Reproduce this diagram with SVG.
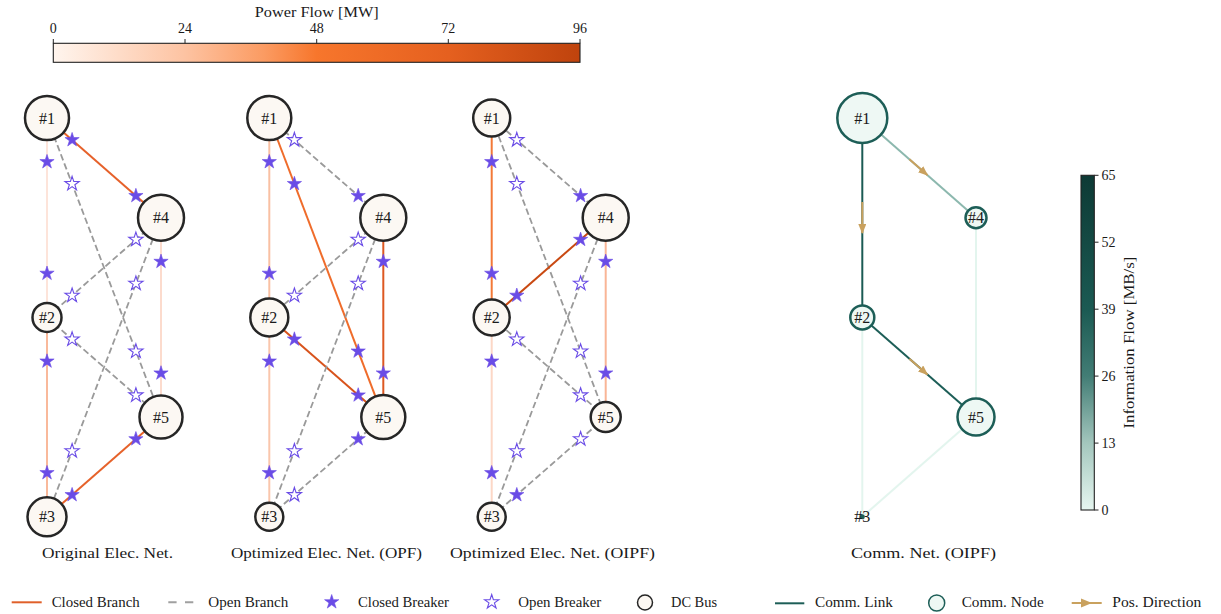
<svg xmlns="http://www.w3.org/2000/svg" xmlns:xlink="http://www.w3.org/1999/xlink" width="1221" height="614" viewBox="0 0 1221 614">
  <defs>
    <style>
      text { font-family: "Liberation Serif", "DejaVu Serif", serif; fill: #1a1a1a; }
      .lbl { font-size: 16px; text-anchor: middle; }
      .ttl { font-size: 15px; text-anchor: middle; }
      .tick { font-size: 14px; }
      .leg { font-size: 14px; }
      .bus { fill: #fcf8f3; stroke: #262626; stroke-width: 2.5; }
      .cnode { fill: #eef8f4; stroke: #1d5e57; stroke-width: 2.5; }
      .open { stroke: #9a9a9a; stroke-width: 1.8; stroke-dasharray: 6.5 3.2; fill: none; }
      .br { stroke-width: 2; fill: none; }
      .bkc { fill: #6a4ce6; stroke: #6a4ce6; stroke-width: 0.6; }
      .bko { fill: #ffffff; stroke: #6a4ce6; stroke-width: 1.1; }
      .cl { stroke-width: 2; fill: none; }
      .dir { stroke: #c9a15e; stroke-width: 2; fill: none; }
      .frame { fill: none; stroke: #222; stroke-width: 1.1; }
      .tk { stroke: #222; stroke-width: 1; }
    </style>
    <!-- five-point breaker star -->
    <path id="bk" d="M0,-7.5 L1.684,-2.318 L7.132,-2.318 L2.725,0.885 L4.408,6.067 L0,2.865 L-4.408,6.067 L-2.725,0.885 L-7.132,-2.318 L-1.684,-2.318 Z"/>
    <marker id="head" viewBox="0 0 10 8" refX="9" refY="4" markerWidth="10" markerHeight="8" markerUnits="userSpaceOnUse" orient="auto">
      <path d="M0,0 L10,4 L0,8 Z" fill="#c9a15e"/>
    </marker>
    <linearGradient id="powerMap" x1="0" y1="0" x2="1" y2="0">
      <stop offset="0" stop-color="#fff5ee"/>
      <stop offset="0.25" stop-color="#fdc3a2"/>
      <stop offset="0.4" stop-color="#fb9b62"/>
      <stop offset="0.5" stop-color="#f7762c"/>
      <stop offset="0.75" stop-color="#e5601f"/>
      <stop offset="1" stop-color="#bf430d"/>
    </linearGradient>
    <linearGradient id="infoMap" x1="0" y1="1" x2="0" y2="0">
      <stop offset="0" stop-color="#e6f6f0"/>
      <stop offset="0.2" stop-color="#a3c6bd"/>
      <stop offset="0.4" stop-color="#427d75"/>
      <stop offset="0.6" stop-color="#1b5a53"/>
      <stop offset="1" stop-color="#0d3a35"/>
    </linearGradient>
  </defs>

  <rect width="1221" height="614" fill="#ffffff"/>

  <!-- power flow colour bar -->
  <g id="power-colorbar">
    <rect x="53.3" y="43.3" width="526.7" height="19" fill="url(#powerMap)"/>
    <rect x="53.3" y="43.3" width="526.7" height="19" class="frame"/>
    <line class="tk" x1="53.3" y1="39" x2="53.3" y2="43.3"/>
    <line class="tk" x1="185" y1="39" x2="185" y2="43.3"/>
    <line class="tk" x1="316.7" y1="39" x2="316.7" y2="43.3"/>
    <line class="tk" x1="448.3" y1="39" x2="448.3" y2="43.3"/>
    <line class="tk" x1="580" y1="39" x2="580" y2="43.3"/>
    <g class="tick" text-anchor="middle">
      <text x="53.3" y="33">0</text>
      <text x="185" y="33">24</text>
      <text x="316.7" y="33">48</text>
      <text x="448.3" y="33">72</text>
      <text x="580" y="33">96</text>
    </g>
    <text x="316.7" y="17" class="ttl" textLength="124" lengthAdjust="spacingAndGlyphs">Power Flow [MW]</text>
  </g>

  <!-- ===== Original electrical network ===== -->
  <g id="net-original">
    <g id="orig-connectors">
      <line class="br" x1="47" y1="118" x2="47" y2="317.4" stroke="#fde4da"/>
      <line class="br" x1="47" y1="118" x2="161" y2="217.7" stroke="#e6612a"/>
      <line class="open" x1="47" y1="118" x2="161" y2="417.1"/>
      <line class="open" x1="47" y1="317.4" x2="161" y2="217.7"/>
      <line class="open" x1="47" y1="317.4" x2="161" y2="417.1"/>
      <line class="br" x1="47" y1="317.4" x2="47" y2="516.8" stroke="#f9b99b"/>
      <line class="open" x1="47" y1="516.8" x2="161" y2="217.7"/>
      <line class="br" x1="47" y1="516.8" x2="161" y2="417.1" stroke="#e6622a"/>
      <line class="br" x1="161" y1="217.7" x2="161" y2="417.1" stroke="#fcdbcd"/>
    </g>
    <g id="orig-breakers">
      <use href="#bk" class="bkc" x="47" y="161.9"/>
      <use href="#bk" class="bkc" x="47" y="273.5"/>
      <use href="#bk" class="bkc" x="72.1" y="139.9"/>
      <use href="#bk" class="bkc" x="135.9" y="195.8"/>
      <use href="#bk" class="bko" x="72.1" y="183.8"/>
      <use href="#bk" class="bko" x="135.9" y="351.3"/>
      <use href="#bk" class="bko" x="72.1" y="295.5"/>
      <use href="#bk" class="bko" x="135.9" y="239.6"/>
      <use href="#bk" class="bko" x="72.1" y="339.3"/>
      <use href="#bk" class="bko" x="135.9" y="395.2"/>
      <use href="#bk" class="bkc" x="47" y="361.3"/>
      <use href="#bk" class="bkc" x="47" y="472.9"/>
      <use href="#bk" class="bko" x="72.1" y="451"/>
      <use href="#bk" class="bko" x="135.9" y="283.5"/>
      <use href="#bk" class="bkc" x="72.1" y="494.9"/>
      <use href="#bk" class="bkc" x="135.9" y="439"/>
      <use href="#bk" class="bkc" x="161" y="261.6"/>
      <use href="#bk" class="bkc" x="161" y="373.2"/>
    </g>
    <g id="orig-bus1"><circle class="bus" cx="47" cy="118" r="22"/><text class="lbl" x="47" y="123.5">#1</text></g>
    <g id="orig-bus4"><circle class="bus" cx="161" cy="217.7" r="23"/><text class="lbl" x="161" y="223.2">#4</text></g>
    <g id="orig-bus2"><circle class="bus" cx="47" cy="317.4" r="14.5"/><text class="lbl" x="47" y="322.9">#2</text></g>
    <g id="orig-bus5"><circle class="bus" cx="161" cy="417.1" r="21.5"/><text class="lbl" x="161" y="422.6">#5</text></g>
    <g id="orig-bus3"><circle class="bus" cx="47" cy="516.8" r="19.5"/><text class="lbl" x="47" y="522.3">#3</text></g>
    <text class="ttl" x="107.5" y="558" textLength="131" lengthAdjust="spacingAndGlyphs">Original Elec. Net.</text>
  </g>

  <!-- ===== Optimized electrical network (OPF) ===== -->
  <g id="net-opf" transform="translate(222.3,0)">
    <g id="opf-connectors">
      <line class="br" x1="47" y1="118" x2="47" y2="317.4" stroke="#f9c0a3"/>
      <line class="open" x1="47" y1="118" x2="161" y2="217.7"/>
      <line class="br" x1="47" y1="118" x2="161" y2="417.1" stroke="#ef6c2b"/>
      <line class="open" x1="47" y1="317.4" x2="161" y2="217.7"/>
      <line class="br" x1="47" y1="317.4" x2="161" y2="417.1" stroke="#d8531c"/>
      <line class="br" x1="47" y1="317.4" x2="47" y2="516.8" stroke="#fac6ac"/>
      <line class="open" x1="47" y1="516.8" x2="161" y2="217.7"/>
      <line class="open" x1="47" y1="516.8" x2="161" y2="417.1"/>
      <line class="br" x1="161" y1="217.7" x2="161" y2="417.1" stroke="#dd5821"/>
    </g>
    <g id="opf-breakers">
      <use href="#bk" class="bkc" x="47" y="161.9"/>
      <use href="#bk" class="bkc" x="47" y="273.5"/>
      <use href="#bk" class="bko" x="72.1" y="139.9"/>
      <use href="#bk" class="bkc" x="135.9" y="195.8"/>
      <use href="#bk" class="bkc" x="72.1" y="183.8"/>
      <use href="#bk" class="bkc" x="135.9" y="351.3"/>
      <use href="#bk" class="bko" x="72.1" y="295.5"/>
      <use href="#bk" class="bko" x="135.9" y="239.6"/>
      <use href="#bk" class="bkc" x="72.1" y="339.3"/>
      <use href="#bk" class="bkc" x="135.9" y="395.2"/>
      <use href="#bk" class="bkc" x="47" y="361.3"/>
      <use href="#bk" class="bkc" x="47" y="472.9"/>
      <use href="#bk" class="bko" x="72.1" y="451"/>
      <use href="#bk" class="bko" x="135.9" y="283.5"/>
      <use href="#bk" class="bko" x="72.1" y="494.9"/>
      <use href="#bk" class="bkc" x="135.9" y="439"/>
      <use href="#bk" class="bkc" x="161" y="261.6"/>
      <use href="#bk" class="bkc" x="161" y="373.2"/>
    </g>
    <g id="opf-bus1"><circle class="bus" cx="47" cy="118" r="22"/><text class="lbl" x="47" y="123.5">#1</text></g>
    <g id="opf-bus4"><circle class="bus" cx="161" cy="217.7" r="23"/><text class="lbl" x="161" y="223.2">#4</text></g>
    <g id="opf-bus2"><circle class="bus" cx="47" cy="317.4" r="19"/><text class="lbl" x="47" y="322.9">#2</text></g>
    <g id="opf-bus5"><circle class="bus" cx="161" cy="417.1" r="22"/><text class="lbl" x="161" y="422.6">#5</text></g>
    <g id="opf-bus3"><circle class="bus" cx="47" cy="516.8" r="14"/><text class="lbl" x="47" y="522.3">#3</text></g>
    <text class="ttl" x="104.2" y="558" textLength="191" lengthAdjust="spacingAndGlyphs">Optimized Elec. Net. (OPF)</text>
  </g>

  <!-- ===== Optimized electrical network (OIPF) ===== -->
  <g id="net-oipf" transform="translate(444.7,0)">
    <g id="oipf-connectors">
      <line class="br" x1="47" y1="118" x2="47" y2="317.4" stroke="#f37937"/>
      <line class="open" x1="47" y1="118" x2="161" y2="217.7"/>
      <line class="open" x1="47" y1="118" x2="161" y2="417.1"/>
      <line class="br" x1="47" y1="317.4" x2="161" y2="217.7" stroke="#c94912"/>
      <line class="open" x1="47" y1="317.4" x2="161" y2="417.1"/>
      <line class="br" x1="47" y1="317.4" x2="47" y2="516.8" stroke="#fcd7c6"/>
      <line class="open" x1="47" y1="516.8" x2="161" y2="217.7"/>
      <line class="open" x1="47" y1="516.8" x2="161" y2="417.1"/>
      <line class="br" x1="161" y1="217.7" x2="161" y2="417.1" stroke="#f9b596"/>
    </g>
    <g id="oipf-breakers">
      <use href="#bk" class="bkc" x="47" y="161.9"/>
      <use href="#bk" class="bkc" x="47" y="273.5"/>
      <use href="#bk" class="bko" x="72.1" y="139.9"/>
      <use href="#bk" class="bkc" x="135.9" y="195.8"/>
      <use href="#bk" class="bko" x="72.1" y="183.8"/>
      <use href="#bk" class="bko" x="135.9" y="351.3"/>
      <use href="#bk" class="bkc" x="72.1" y="295.5"/>
      <use href="#bk" class="bkc" x="135.9" y="239.6"/>
      <use href="#bk" class="bko" x="72.1" y="339.3"/>
      <use href="#bk" class="bko" x="135.9" y="395.2"/>
      <use href="#bk" class="bkc" x="47" y="361.3"/>
      <use href="#bk" class="bkc" x="47" y="472.9"/>
      <use href="#bk" class="bko" x="72.1" y="451"/>
      <use href="#bk" class="bko" x="135.9" y="283.5"/>
      <use href="#bk" class="bkc" x="72.1" y="494.9"/>
      <use href="#bk" class="bko" x="135.9" y="439"/>
      <use href="#bk" class="bkc" x="161" y="261.6"/>
      <use href="#bk" class="bkc" x="161" y="373.2"/>
    </g>
    <g id="oipf-bus1"><circle class="bus" cx="47" cy="118" r="18.5"/><text class="lbl" x="47" y="123.5">#1</text></g>
    <g id="oipf-bus4"><circle class="bus" cx="161" cy="217.7" r="23"/><text class="lbl" x="161" y="223.2">#4</text></g>
    <g id="oipf-bus2"><circle class="bus" cx="47" cy="317.4" r="18"/><text class="lbl" x="47" y="322.9">#2</text></g>
    <g id="oipf-bus5"><circle class="bus" cx="161" cy="417.1" r="15"/><text class="lbl" x="161" y="422.6">#5</text></g>
    <g id="oipf-bus3"><circle class="bus" cx="47" cy="516.8" r="14"/><text class="lbl" x="47" y="522.3">#3</text></g>
    <text class="ttl" x="107.8" y="558" textLength="205" lengthAdjust="spacingAndGlyphs">Optimized Elec. Net. (OIPF)</text>
  </g>

  <!-- ===== Communication network (OIPF) ===== -->
  <g id="net-comm">
    <g id="comm-connectors">
      <line class="cl" x1="862.3" y1="118" x2="862.3" y2="317.4" stroke="#1b5b54"/>
      <line class="cl" x1="862.3" y1="118" x2="976" y2="217.7" stroke="#8cb8ae"/>
      <line class="cl" x1="862.3" y1="317.4" x2="976" y2="417.1" stroke="#1d5e57"/>
      <line class="cl" x1="976" y1="217.7" x2="976" y2="417.1" stroke="#e3f5ee" stroke-width="1.6"/>
      <line class="cl" x1="862.3" y1="317.4" x2="862.3" y2="516.8" stroke="#e3f5ee" stroke-width="1.6"/>
      <line class="cl" x1="862.3" y1="516.8" x2="976" y2="417.1" stroke="#e3f5ee" stroke-width="1.6"/>
      <line class="dir" x1="862.3" y1="202" x2="862.3" y2="233" marker-end="url(#head)"/>
      <line class="dir" x1="909.4" y1="159.3" x2="927.4" y2="175.1" marker-end="url(#head)"/>
      <line class="dir" x1="909.4" y1="358.7" x2="927.4" y2="374.5" marker-end="url(#head)"/>
    </g>
    <g id="comm-node1"><circle class="cnode" cx="862.3" cy="118" r="25"/><text class="lbl" x="862.3" y="123.5">#1</text></g>
    <g id="comm-node4"><circle class="cnode" cx="976" cy="217.7" r="10.5"/><text class="lbl" x="976" y="223.2">#4</text></g>
    <g id="comm-node2"><circle class="cnode" cx="862.3" cy="317.4" r="12"/><text class="lbl" x="862.3" y="322.9">#2</text></g>
    <g id="comm-node5"><circle class="cnode" cx="976" cy="417.1" r="18.5"/><text class="lbl" x="976" y="422.6">#5</text></g>
    <g id="comm-node3"><circle cx="862.3" cy="516.8" r="2.5" fill="#1d5e57"/><text class="lbl" x="862.3" y="522.3">#3</text></g>
    <text class="ttl" x="923.5" y="558" textLength="145" lengthAdjust="spacingAndGlyphs">Comm. Net. (OIPF)</text>
  </g>

  <!-- information flow colour bar -->
  <g id="info-colorbar">
    <rect x="1081" y="175.3" width="13.3" height="334.7" fill="url(#infoMap)"/>
    <rect x="1081" y="175.3" width="13.3" height="334.7" class="frame"/>
    <line class="tk" x1="1094.3" y1="175.3" x2="1098.5" y2="175.3"/>
    <line class="tk" x1="1094.3" y1="242.2" x2="1098.5" y2="242.2"/>
    <line class="tk" x1="1094.3" y1="309.2" x2="1098.5" y2="309.2"/>
    <line class="tk" x1="1094.3" y1="376.1" x2="1098.5" y2="376.1"/>
    <line class="tk" x1="1094.3" y1="443.1" x2="1098.5" y2="443.1"/>
    <line class="tk" x1="1094.3" y1="510" x2="1098.5" y2="510"/>
    <g class="tick">
      <text x="1101.5" y="180">65</text>
      <text x="1101.5" y="247">52</text>
      <text x="1101.5" y="314">39</text>
      <text x="1101.5" y="381">26</text>
      <text x="1101.5" y="448">13</text>
      <text x="1101.5" y="515">0</text>
    </g>
    <text class="ttl" transform="translate(1134,342.6) rotate(-90)" x="0" y="0" textLength="172" lengthAdjust="spacingAndGlyphs">Information Flow [MB/s]</text>
  </g>

  <!-- legend -->
  <g id="legend">
    <line x1="11.7" y1="602.3" x2="41.7" y2="602.3" stroke="#e0602a" stroke-width="2"/>
    <text class="leg" x="51.7" y="606.5" textLength="88" lengthAdjust="spacingAndGlyphs">Closed Branch</text>
    <line x1="168.3" y1="602.3" x2="193.3" y2="602.3" stroke="#a0a0a0" stroke-width="2" stroke-dasharray="8.3 8.4"/>
    <text class="leg" x="208.3" y="606.5" textLength="80" lengthAdjust="spacingAndGlyphs">Open Branch</text>
    <use href="#bk" class="bkc" x="331.7" y="602"/>
    <text class="leg" x="358" y="606.5" textLength="91" lengthAdjust="spacingAndGlyphs">Closed Breaker</text>
    <use href="#bk" class="bko" x="491.7" y="602"/>
    <text class="leg" x="518.3" y="606.5" textLength="83" lengthAdjust="spacingAndGlyphs">Open Breaker</text>
    <circle cx="645" cy="602.5" r="7.5" fill="#fcf8f3" stroke="#262626" stroke-width="1.5"/>
    <text class="leg" x="671" y="606.5" textLength="46" lengthAdjust="spacingAndGlyphs">DC Bus</text>
    <line x1="775" y1="603.3" x2="804.3" y2="603.3" stroke="#1d5e57" stroke-width="2"/>
    <text class="leg" x="815" y="606.5" textLength="78" lengthAdjust="spacingAndGlyphs">Comm. Link</text>
    <circle cx="936.7" cy="603" r="8" fill="#eef8f4" stroke="#1d5e57" stroke-width="1.5"/>
    <text class="leg" x="961.7" y="606.5" textLength="82" lengthAdjust="spacingAndGlyphs">Comm. Node</text>
    <line x1="1071.7" y1="603" x2="1101.7" y2="603" stroke="#c9a15e" stroke-width="2"/>
    <path d="M1081,598.5 L1092,603 L1081,607.5 Z" fill="#c9a15e"/>
    <text class="leg" x="1112.3" y="606.5" textLength="89" lengthAdjust="spacingAndGlyphs">Pos. Direction</text>
  </g>
</svg>
